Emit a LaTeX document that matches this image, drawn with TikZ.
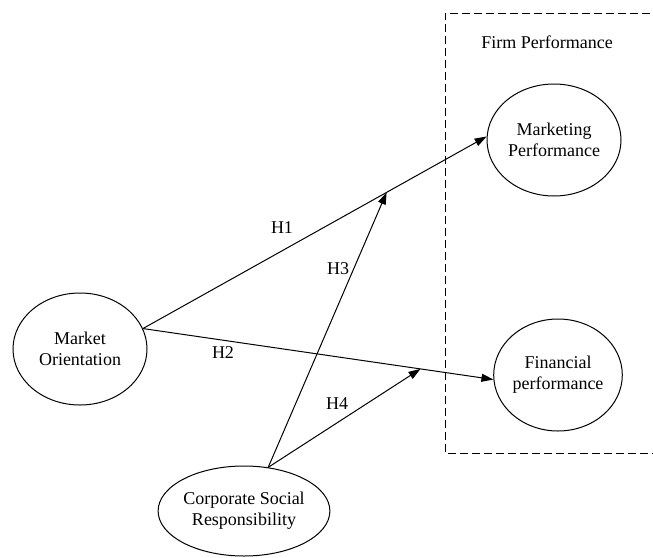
\documentclass[tikz,border=0pt]{standalone}
\usepackage{fontspec}
\setmainfont{Liberation Serif}
\usetikzlibrary{shapes.geometric,arrows.meta}
\begin{document}
\begin{tikzpicture}[x=1pt,y=-1pt,
  construct/.style={draw, ellipse, line width=1pt, inner sep=0pt, align=center,
    font=\fontsize{18}{21}\selectfont},
  link/.style={line width=1pt},
  hyp/.style={link, -{Triangle[length=12pt,width=8pt]}},
  hlabel/.style={font=\fontsize{18}{21}\selectfont, inner sep=0pt},
  groupbox/.style={line width=1pt, dash pattern=on 8pt off 4pt}]
\useasboundingbox (0,0) rectangle (653,557);

% dashed frame grouping the outcome constructs
\draw[groupbox] (662,13) -- (445,13) -- (445,453) -- (662,453);
\node[hlabel] (fp-title) at (547,42) {Firm Performance};

% constructs
\node[construct, minimum width=134pt, minimum height=112pt] (mo)  at (80,349)  {Market\\Orientation};
\node[construct, minimum width=148pt, minimum height=90pt]  (csr) at (244,511) {Corporate Social\\Responsibility};
\node[construct, minimum width=134pt, minimum height=112pt] (mp)  at (554,140) {Marketing\\Performance};
\node[construct, minimum width=128pt, minimum height=112pt] (fin) at (558,375) {Financial\\performance};

% direct effects
\draw[hyp] (mo.18) -- coordinate[pos=0.709] (j1) (mp.177);
\draw[hyp] (mo.18) -- coordinate[pos=0.792] (j2) (fin.184);

% moderating effects
\draw[hyp] (csr.61) -- (j1);
\draw[hyp] (csr.61) -- (j2);

% hypothesis labels
\node[hlabel] (h1) at (282,228) {H1};
\node[hlabel] (h2) at (223,353) {H2};
\node[hlabel] (h3) at (338,269) {H3};
\node[hlabel] (h4) at (337,404) {H4};
\end{tikzpicture}
\end{document}
